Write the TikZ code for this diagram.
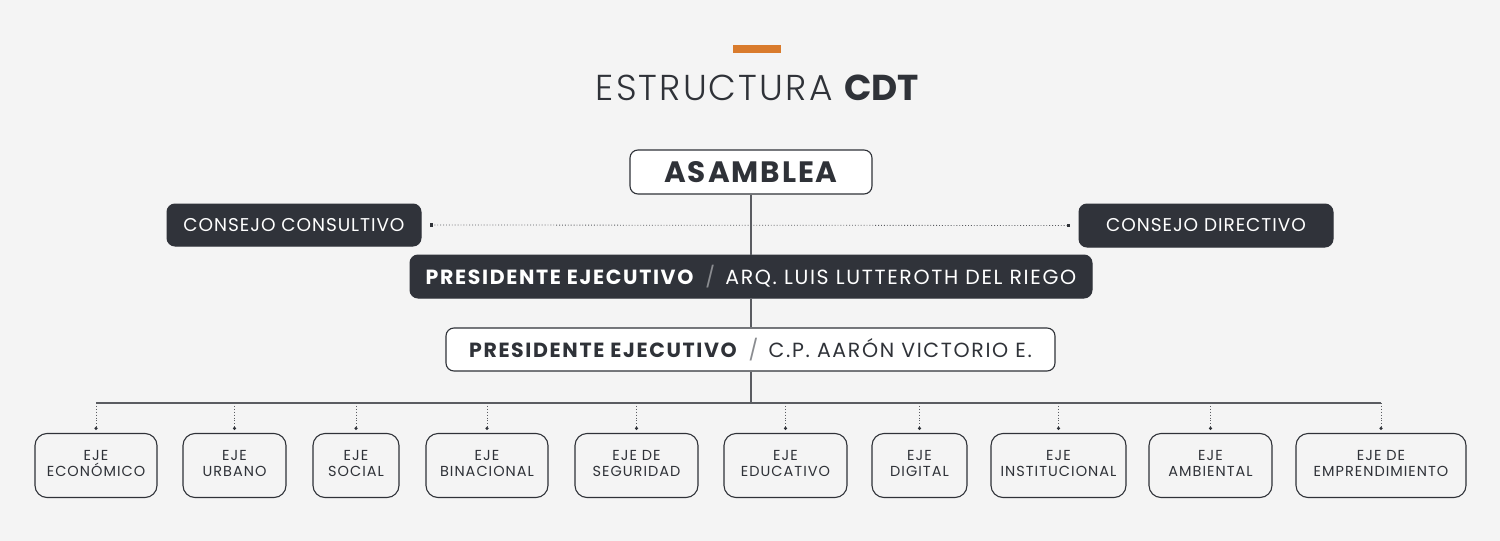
\documentclass[tikz,border=0pt]{standalone}
\usepackage{fontspec}
\setmainfont{Poppins}
\newfontfamily\lightfont{Poppins Light}[LetterSpace=6]
\definecolor{bg}{HTML}{F4F4F4}
\definecolor{dark}{HTML}{30333A}
\definecolor{ink}{HTML}{2F3238}
\definecolor{orng}{HTML}{D97B2C}
\definecolor{linegray}{HTML}{5A5C61}
\definecolor{slash}{HTML}{8A8C90}
\tikzset{
  whitebox/.style={draw=ink, line width=1.1pt, fill=white, rounded corners=8pt, inner sep=0pt, align=center, text=ink},
  darkbox/.style={draw=dark, line width=1pt, fill=dark, rounded corners=8pt, inner sep=0pt, align=center, text=white},
  ejebox/.style={draw=ink, line width=1.1pt, fill=none, rounded corners=12pt, inner sep=0pt, align=center, text=ink,
    minimum height=64pt, text depth=4pt, font=\fontsize{14.5}{16.5}\selectfont\addfontfeatures{LetterSpace=7}},
  conn/.style={draw=linegray, line width=1.2pt},
  dotconn/.style={draw=linegray, line width=0.9pt, dotted},
  dotmark/.style={fill=ink, circle, inner sep=0pt, minimum size=3.5pt},
  sqmark/.style={fill=ink, rectangle, inner sep=0pt, minimum size=3.5pt},
}
\begin{document}
\begin{tikzpicture}[x=1pt,y=-1pt]
\useasboundingbox[fill=bg] (0,0) rectangle (1500,541);
% title
\fill[orng] (733,45) rectangle (781,53);
\node[text=ink, font=\fontsize{36}{40}\selectfont] (title) at (757.5,88) {{\lightfont ESTRUCTURA} \textbf{CDT}};
% main boxes
\node[whitebox, minimum width=242pt, minimum height=44pt, font=\fontsize{29.5}{31}\selectfont\bfseries\addfontfeatures{LetterSpace=6.5}] (asm) at (751,172) {ASAMBLEA};
\node[darkbox, minimum width=254pt, minimum height=42pt, font=\fontsize{18.5}{20}\selectfont\addfontfeatures{LetterSpace=5}] (cc) at (294,225) {CONSEJO CONSULTIVO};
\node[darkbox, minimum width=254pt, minimum height=43pt, font=\fontsize{18.5}{20}\selectfont\addfontfeatures{LetterSpace=5}] (cd) at (1206,225.5) {CONSEJO DIRECTIVO};
\node[darkbox, minimum width=682pt, minimum height=43pt, font=\fontsize{20.5}{22}\selectfont\addfontfeatures{LetterSpace=8}] (p1) at (751,276.5) {\textbf{PRESIDENTE EJECUTIVO}\enspace{\color{slash}/}\enspace ARQ. LUIS LUTTEROTH DEL RIEGO};
\node[whitebox, minimum width=609pt, minimum height=43pt, font=\fontsize{20.5}{22}\selectfont\addfontfeatures{LetterSpace=8}] (p2) at (750.5,349.5) {\textbf{PRESIDENTE EJECUTIVO}\enspace{\color{slash}/}\enspace C.P. AARÓN VICTORIO E.};
% connectors
\draw[conn] (asm.south) -- (asm.south |- p1.north);
\draw[conn] (asm.south |- p1.south) -- (asm.south |- p2.north);
\coordinate (busmid) at (751,403);
\draw[conn] (asm.south |- p2.south) -- (busmid);
% dotted link between councils
\coordinate (ccend) at ([xshift=10pt]cc.east);
\coordinate (cdend) at ([xshift=-10pt]cd.west);
\draw[dotconn, line width=0.8pt] (ccend) -- (cdend);
\node[sqmark] (ccsq) at (ccend) {};
\node[sqmark] (cdsq) at (cdend) {};
% eje boxes
\node[ejebox, minimum width=122pt] (e1) at (96,465.5) {EJE\\ECONÓMICO};
\node[ejebox, minimum width=103pt] (e2) at (234.5,465.5) {EJE\\URBANO};
\node[ejebox, minimum width=86pt] (e3) at (356,465.5) {EJE\\SOCIAL};
\node[ejebox, minimum width=122pt] (e4) at (487,465.5) {EJE\\BINACIONAL};
\node[ejebox, minimum width=123pt] (e5) at (636.5,465.5) {EJE DE\\SEGURIDAD};
\node[ejebox, minimum width=123pt] (e6) at (785.5,465.5) {EJE\\EDUCATIVO};
\node[ejebox, minimum width=95pt] (e7) at (919.5,465.5) {EJE\\DIGITAL};
\node[ejebox, minimum width=135pt] (e8) at (1058.5,465.5) {EJE\\INSTITUCIONAL};
\node[ejebox, minimum width=123pt] (e9) at (1210.5,465.5) {EJE\\AMBIENTAL};
\node[ejebox, minimum width=170pt] (e10) at (1381,465.5) {EJE DE\\EMPRENDIMIENTO};
% bus
\foreach \i in {1,...,10}{
  \coordinate (b\i) at (e\i.north |- busmid);
  \coordinate (d\i) at ([yshift=4.5pt]e\i.north);
}
\draw[conn] (b1) -- (b10);
\foreach \i in {1,...,10}{
  \draw[dotconn] (b\i) -- (d\i);
  \node[dotmark] (m\i) at (d\i) {};
}
\end{tikzpicture}
\end{document}
